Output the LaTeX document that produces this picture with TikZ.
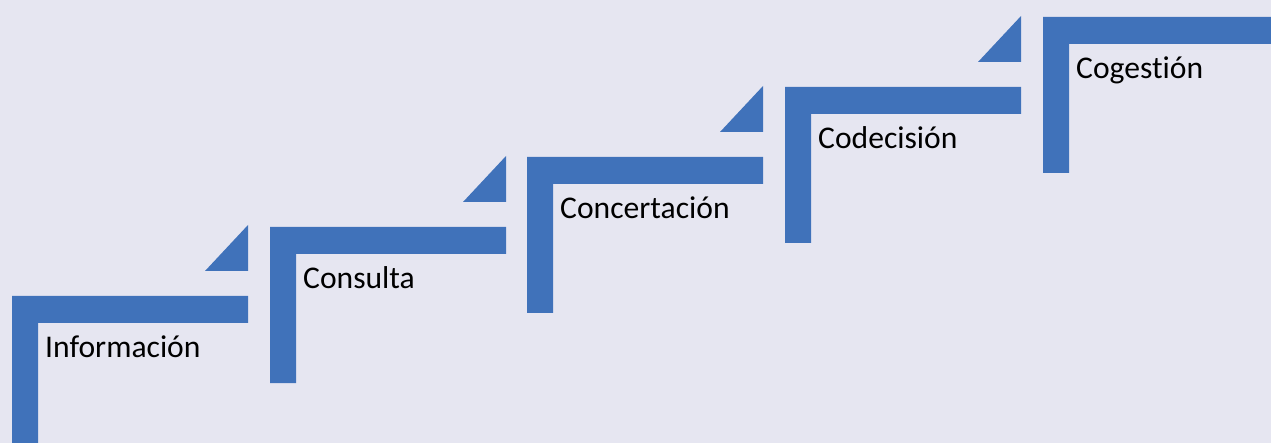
\documentclass[tikz,border=0pt]{standalone}
\usepackage{fontspec}
\setmainfont[Ligatures={NoCommon}]{Carlito}
\definecolor{bgc}{HTML}{E6E6F1}
\definecolor{stepblue}{HTML}{4072BA}
\tikzset{
  stair/.style={fill=stepblue, draw=none},
  steplabel/.style={anchor=base west, inner sep=0pt, text=black, font=\fontsize{31.6}{36}\selectfont}
}
\begin{document}
\begin{tikzpicture}[x=1pt,y=-1pt]
\useasboundingbox (0,0) rectangle (1271,443);
\fill[bgc] (0,0) rectangle (1271,443);
\begin{scope}
\clip (0,0) rectangle (1271,443);
\foreach \i/\lx/\ty/\txt/\nm in {0/12/296/Información/s1, 1/270/227/Consulta/s2, 2/527/157/Concertación/s3, 3/785/87/Codecisión/s4, 4/1043/17/Cogestión/s5}{
  % L-shaped step
  \fill[stair] (\lx,\ty) -- (\lx+236,\ty) -- (\lx+236,\ty+27) -- (\lx+26,\ty+27) -- (\lx+26,\ty+156) -- (\lx,\ty+156) -- cycle;
  \node[steplabel] (\nm) at (\lx+33,\ty+62) {\txt};
}
% small triangles above right ends of the first four steps
\foreach \lx/\ty in {12/296, 270/227, 527/157, 785/87}{
  \fill[stair] (\lx+193,\ty-25) -- (\lx+236,\ty-25) -- (\lx+236,\ty-71) -- cycle;
}
\end{scope}
\end{tikzpicture}
\end{document}
